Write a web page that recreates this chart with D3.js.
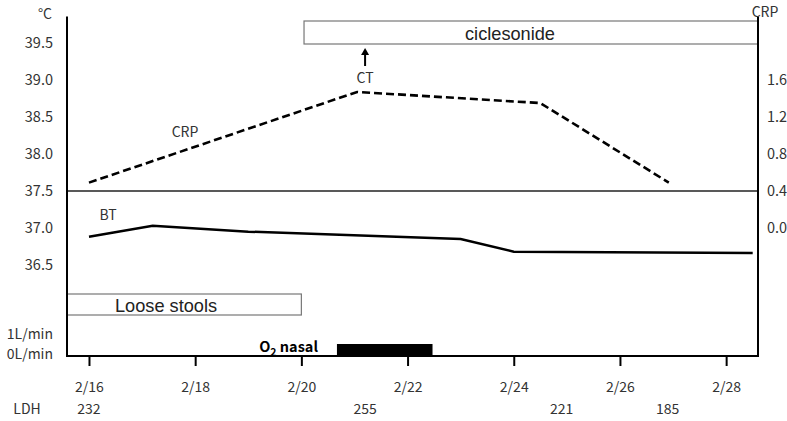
<!DOCTYPE html>
<html><head><meta charset="utf-8">
<script src="https://cdn.jsdelivr.net/npm/d3@7"></script>
<style>body{margin:0;background:#fff}svg{display:block}text{font-family:"Noto Sans CJK JP","Noto Sans",sans-serif;fill:#333}</style>
</head><body><svg id="c" width="787" height="421"></svg>
<script>
// ---- data (day of February) ----
const tickDays = [16,18,20,22,24,26,28];
const tickLabels = ["2/16","2/18","2/20","2/22","2/24","2/26","2/28"];
const tempTicks = [36.5,37.0,37.5,38.0,38.5,39.0,39.5];
const crpTicks = [0.0,0.4,0.8,1.2,1.6];
const btDays = [16,17.2,19,23,24,28.5];
const btValues = [36.88,37.03,36.95,36.85,36.68,36.66];
const crpDays = [16,21.05,24.5,26.92];
const crpValues = [0.49,1.47,1.35,0.49];
const ldhDays = [16,21.2,24.9,26.9];
const ldhValues = [232,255,221,185];
const looseStools = [15.586,20];
const ciclesonide = [20.05,28.6];
const o2Period = [20.67,22.47];
const o2Flow = 0.5;
const o2Ticks = [0,1];
const ctDay = 21.2;

const svg = d3.select("#c");
const L=67,R=758,T=17,B=356;
const x = d3.scaleLinear().domain([15.586,28.6]).range([L,R]);
const yT = d3.scaleLinear().domain([35.27,39.85]).range([B,T]);
const yC = d3.scaleLinear().domain([0.4+(35.27-37.5)*0.8, 0.4+(39.85-37.5)*0.8]).range([B,T]);
const yO = d3.scaleLinear().domain([0,1]).range([354,334]);

// boxes
svg.append("rect").attr("x",x(ciclesonide[0])).attr("y",21).attr("width",x(ciclesonide[1])-x(ciclesonide[0])).attr("height",23)
  .attr("fill","#fff").attr("stroke","#777").attr("stroke-width",1.2);
svg.append("text").attr("x",510).attr("y",33).attr("dy","0.36em").attr("text-anchor","middle")
  .style("font-family","'Liberation Sans',Arial,sans-serif").style("font-size","18.2px").style("fill","#222").text("ciclesonide");
svg.append("rect").attr("x",x(looseStools[0])).attr("y",294).attr("width",x(looseStools[1])-x(looseStools[0])).attr("height",21)
  .attr("fill","#fff").attr("stroke","#777").attr("stroke-width",1.2);
svg.append("text").attr("x",166).attr("y",305).attr("dy","0.36em").attr("text-anchor","middle")
  .style("font-family","'Liberation Sans',Arial,sans-serif").style("font-size","18.2px").style("fill","#222").text("Loose stools");

// 37.5 reference line
svg.append("line").attr("x1",L).attr("x2",R).attr("y1",yT(37.5)).attr("y2",yT(37.5)).attr("stroke","#222").attr("stroke-width",1.5);

// O2 bar
svg.append("rect").attr("x",x(o2Period[0])).attr("y",yO(o2Flow)).attr("width",x(o2Period[1])-x(o2Period[0])).attr("height",B-yO(o2Flow)).attr("fill","#000");
const o2t = svg.append("text").attr("x",318).attr("y",352).attr("text-anchor","end").style("font-size","14.5px").style("font-weight","bold").style("fill","#000");
o2t.append("tspan").text("O");
o2t.append("tspan").attr("dy",4).style("font-size","10.5px").text("2");
o2t.append("tspan").attr("dy",-4).text(" nasal");

// lines
const btLine = d3.line().x((d,i)=>x(btDays[i])).y(d=>yT(d));
svg.append("path").attr("d",btLine(btValues)).attr("fill","none").attr("stroke","#000").attr("stroke-width",2.5);
const crpLine = d3.line().x((d,i)=>x(crpDays[i])).y(d=>yC(d));
svg.append("path").attr("d",crpLine(crpValues)).attr("fill","none").attr("stroke","#000").attr("stroke-width",2.6).attr("stroke-dasharray","8,4");

// axes
const gx = svg.append("g").attr("transform",`translate(0,${B})`)
  .call(d3.axisBottom(x).tickValues(tickDays).tickFormat((d,i)=>tickLabels[i]).tickSize(10).tickPadding(16).tickSizeOuter(0));
gx.select(".domain").remove();
gx.selectAll(".tick line").attr("stroke","#000").attr("stroke-width",2);
gx.selectAll(".tick text").style("font-size","14px").style("fill","#333");

const gl = svg.append("g").attr("transform",`translate(${L},0)`)
  .call(d3.axisLeft(yT).tickValues(tempTicks).tickFormat(d3.format(".1f")).tickSize(0).tickPadding(14));
gl.select(".domain").remove();
gl.selectAll(".tick text").style("font-size","14.5px").style("fill","#333");

const gr = svg.append("g").attr("transform",`translate(${R},0)`)
  .call(d3.axisRight(yC).tickValues(crpTicks).tickFormat(d3.format(".1f")).tickSize(0).tickPadding(9));
gr.select(".domain").remove();
gr.selectAll(".tick text").style("font-size","14.5px").style("fill","#333");

const go = svg.append("g").attr("transform",`translate(${L},0)`)
  .call(d3.axisLeft(yO).tickValues(o2Ticks).tickFormat(d=>d+"L/min").tickSize(0).tickPadding(14));
go.select(".domain").remove();
go.selectAll(".tick text").style("font-size","14px").style("fill","#333");

// frame lines
svg.append("path").attr("d",`M${L},${T-0.5}V${B}H${R}V${T-0.5}`).attr("fill","none").attr("stroke","#000").attr("stroke-width",2);

// labels
svg.append("text").attr("x",45).attr("y",14).attr("dy","0.35em").attr("text-anchor","middle").style("font-size","14px").text("°C");
svg.append("text").attr("x",765).attr("y",12).attr("dy","0.35em").attr("text-anchor","middle").style("font-size","14px").text("CRP");
svg.append("text").attr("x",185).attr("y",132).attr("dy","0.35em").attr("text-anchor","middle").style("font-size","14px").text("CRP");
svg.append("text").attr("x",108).attr("y",215).attr("dy","0.35em").attr("text-anchor","middle").style("font-size","14px").text("BT");
svg.append("text").attr("x",x(ctDay)).attr("y",78).attr("dy","0.35em").attr("text-anchor","middle").style("font-size","14px").text("CT");
// arrow
svg.append("line").attr("x1",x(ctDay)).attr("x2",x(ctDay)).attr("y1",66).attr("y2",54).attr("stroke","#000").attr("stroke-width",2);
svg.append("path").attr("d",`M${x(ctDay)-4},${55}L${x(ctDay)},${48}L${x(ctDay)+4},${55}Z`).attr("fill","#000");

// LDH row
svg.append("text").attr("x",27).attr("y",409).attr("dy","0.35em").attr("text-anchor","middle").style("font-size","14px").text("LDH");
svg.selectAll(".ldh").data(ldhValues).enter().append("text").attr("class","ldh")
  .attr("x",(d,i)=>x(ldhDays[i])).attr("y",409).attr("dy","0.35em").attr("text-anchor","middle").style("font-size","14px").text(d=>d);
</script></body></html>
